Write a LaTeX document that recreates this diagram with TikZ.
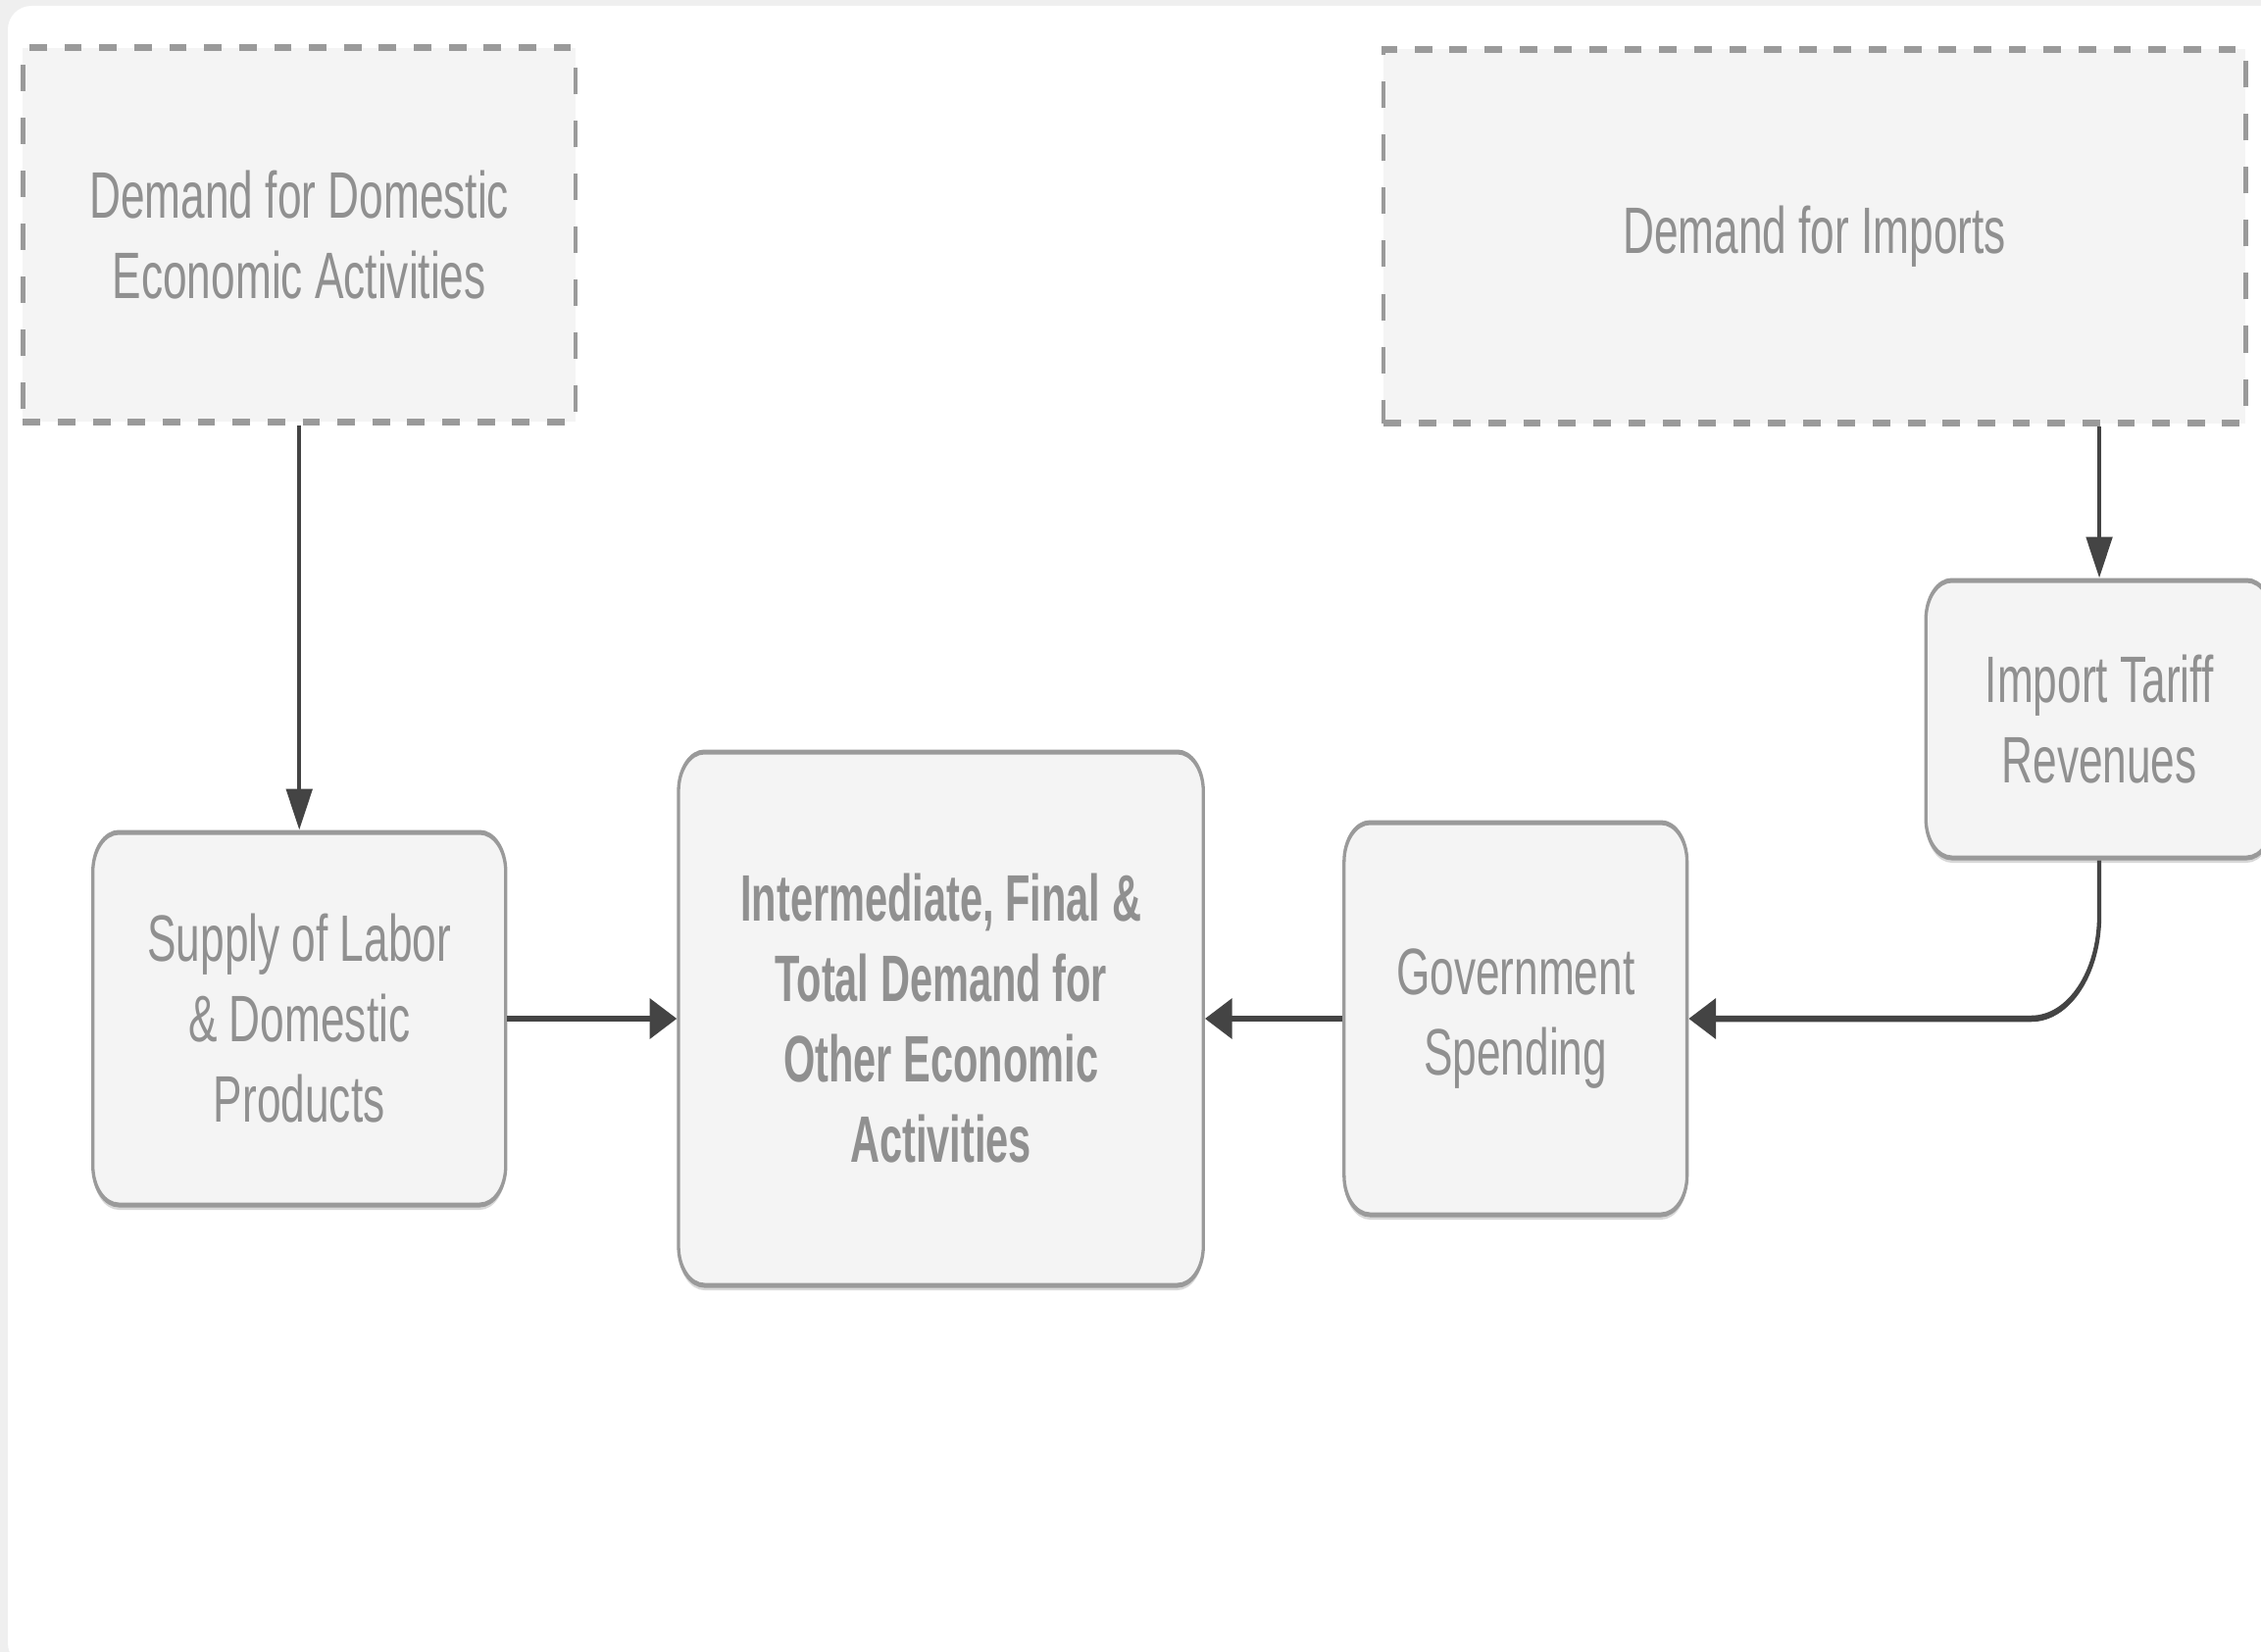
\documentclass[tikz,border=0pt]{standalone}
\usepackage{fontspec}
\setmainfont{Liberation Sans}
\newfontfamily\boldcond[FakeStretch=0.94]{Liberation Sans}
\usetikzlibrary{arrows.meta,shadows}
\definecolor{bgstrip}{HTML}{EFEFEF}
\definecolor{boxfill}{HTML}{F4F4F4}
\definecolor{boxline}{HTML}{9A9A9A}
\definecolor{txtgray}{HTML}{909090}
\definecolor{arrowc}{HTML}{444444}
\begin{document}
\begin{tikzpicture}[x=1pt,y=-1pt,
  txt/.style={font=\fontsize{67}{82}\selectfont, text=txtgray, align=center},
  dbox/.style={txt, draw=boxline, fill=boxfill, line width=7pt, dash pattern=on 27pt off 27pt, inner sep=0pt},
  sbox/.style={txt, draw=boxline, fill=boxfill, line width=5pt, rounded corners=40pt, inner sep=0pt,
    drop shadow={shadow xshift=0pt, shadow yshift=-5pt, opacity=0.25, fill=black!60}},
  arr/.style={draw=arrowc, line width=6.5pt, -{Triangle[length=42pt,width=40pt]}}
]
\useasboundingbox (0,0) rectangle (2306,1685);
\fill[bgstrip] (0,0) rectangle (2306,1685);
\begin{scope}
\clip (0,0) rectangle (2306,1685);
\fill[white, rounded corners=24pt] (8,6) rectangle (2340,1700);
\end{scope}
\begin{scope}[transform canvas={xscale=0.66}]
\node[dbox, minimum width=854pt, minimum height=381pt] (dom) at (462.5,239.5) {Demand for Domestic\\Economic Activities};
\node[dbox, minimum width=1332pt, minimum height=381pt] (imp) at (2804,241) {Demand for Imports};
\node[sbox, minimum width=638pt, minimum height=380pt] (sup) at (462.5,1039) {Supply of Labor\\\& Domestic\\Products};
\node[sbox, minimum width=811pt, minimum height=544pt, font=\fontsize{67}{82}\selectfont\boldcond\bfseries] (mid) at (1454,1039) {Intermediate, Final \&\\Total Demand for\\Other Economic\\Activities};
\node[sbox, minimum width=530pt, minimum height=400pt] (gov) at (2342,1039) {Government\\Spending};
\node[sbox, minimum width=536pt, minimum height=283pt] (tar) at (3244,733.5) {Import Tariff\\Revenues};
\draw[arr] (dom.south) -- (sup.north);
\draw[arr] (sup.east) -- (mid.west);
\draw[arr] (gov.west) -- (mid.east);
\draw[arr] (tar.north |- imp.south) -- (tar.north);
\draw[arr, rounded corners=105pt] (tar.south) |- (gov.east);
\end{scope}
\end{tikzpicture}
\end{document}
